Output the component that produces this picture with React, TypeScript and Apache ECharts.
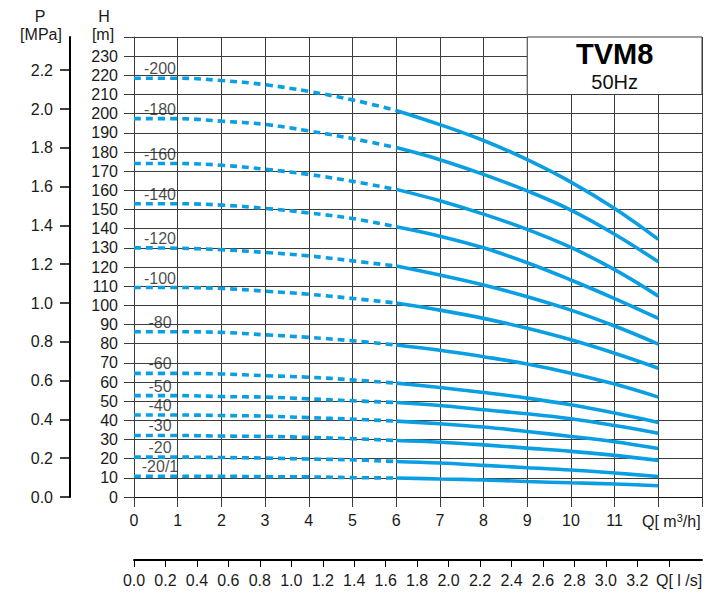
import React, { useEffect, useRef } from "react";
import * as echarts from "echarts";

// Flow rate points, m3/h
const Q_M3H = [0, 1, 2, 3, 4, 5, 6, 7, 8, 9, 10, 11, 12];
// index where dotted part ends and solid part starts
const SPLIT_INDEX = 6;

const CURVE_NAMES = ["-200", "-180", "-160", "-140", "-120", "-100", "-80", "-60", "-50", "-40", "-30", "-20", "-20/1"];

// Head values (m) at each Q
const H_200 = [218.5, 218.5, 217.3, 215.1, 211.6, 207.2, 201.7, 194.3, 186.0, 176.0, 164.3, 150.5, 134.4];
const H_180 = [197.4, 197.4, 196.1, 194.4, 191.0, 187.0, 182.3, 176.0, 168.3, 159.7, 149.7, 137.1, 122.7];
const H_160 = [174.0, 174.0, 173.1, 171.0, 168.3, 164.7, 160.5, 154.6, 147.6, 139.6, 130.2, 118.6, 104.8];
const H_140 = [153.0, 153.0, 152.3, 150.6, 148.2, 145.3, 141.0, 136.1, 130.0, 122.2, 113.2, 103.5, 93.2];
const H_120 = [130.0, 129.8, 129.0, 127.6, 125.8, 123.2, 120.5, 115.8, 110.6, 104.5, 97.5, 89.2, 79.8];
const H_100 = [109.3, 109.3, 108.8, 107.4, 105.8, 103.6, 101.2, 97.5, 93.2, 88.0, 82.0, 75.0, 67.2];
const H_80 = [86.2, 86.2, 85.9, 84.6, 83.3, 81.5, 79.3, 76.6, 73.2, 69.4, 64.6, 58.9, 52.1];
const H_60 = [64.5, 64.5, 64.2, 63.3, 62.5, 61.1, 59.4, 57.1, 54.5, 51.6, 48.1, 43.8, 38.9];
const H_50 = [52.9, 52.9, 52.4, 52.1, 51.2, 50.2, 49.3, 47.7, 45.5, 43.4, 40.8, 37.3, 33.3];
const H_40 = [42.8, 42.8, 42.5, 42.2, 41.4, 40.6, 39.6, 38.2, 36.5, 34.2, 31.6, 28.8, 25.3];
const H_30 = [32.1, 32.1, 31.8, 31.6, 31.1, 30.4, 29.5, 28.6, 27.2, 25.5, 23.8, 21.7, 19.1];
const H_20 = [20.8, 20.8, 20.6, 20.3, 19.8, 19.4, 18.5, 17.7, 16.5, 15.3, 14.1, 12.5, 10.7];
const H_20_1 = [10.8, 10.8, 10.8, 10.6, 10.5, 10.1, 9.9, 9.4, 8.9, 8.1, 7.4, 6.8, 5.9];

const CURVES = [H_200, H_180, H_160, H_140, H_120, H_100, H_80, H_60, H_50, H_40, H_30, H_20, H_20_1];

// Axis ticks / labels
const P_TICKS = [0, 0.2, 0.4, 0.6, 0.8, 1.0, 1.2, 1.4, 1.6, 1.8, 2.0, 2.2];
const LS_TICKS = [0, 0.2, 0.4, 0.6, 0.8, 1.0, 1.2, 1.4, 1.6, 1.8, 2.0, 2.2, 2.4, 2.6, 2.8, 3.0, 3.2, 3.4];
const LS_LABELS = [0, 0.2, 0.4, 0.6, 0.8, 1.0, 1.2, 1.4, 1.6, 1.8, 2.0, 2.2, 2.4, 2.6, 2.8, 3.0, 3.2];

const TITLE = "TVM8";
const SUBTITLE = "50Hz";

const FONT = "'Liberation Sans', Arial, sans-serif";
const FS = 16;
const BLUE = "#0a9fe3";
const TEXT = "#1a1a1a";
const GRIDC = "#3c3c3c";

export default function App() {
  const ref = useRef<HTMLDivElement>(null);

  useEffect(() => {
    if (!ref.current) return;
    const chart = echarts.init(ref.current, undefined, { renderer: "svg" });

    const series: any[] = [];
    CURVES.forEach((H, i) => {
      const pts = Q_M3H.map((q, j) => [q, H[j]]);
      series.push({
        type: "line",
        name: CURVE_NAMES[i] + " dotted",
        data: pts.slice(0, SPLIT_INDEX + 1),
        smooth: 0.4,
        symbol: "none",
        silent: true,
        lineStyle: { color: BLUE, width: 3.6, type: [7, 5], cap: "butt" },
        z: 3,
      });
      series.push({
        type: "line",
        name: CURVE_NAMES[i],
        data: pts.slice(SPLIT_INDEX),
        smooth: 0.4,
        symbol: "none",
        silent: true,
        lineStyle: { color: BLUE, width: 3.6, type: "solid" },
        z: 3,
      });
    });
    series.push({
      type: "scatter",
      name: "labels",
      symbolSize: 1,
      silent: true,
      itemStyle: { color: "transparent" },
      data: CURVE_NAMES.map((n, i) => ({ name: n, value: [Q_M3H[0], CURVES[i][0]] })),
      label: {
        show: true,
        formatter: "{b}",
        position: "top",
        distance: 1,
        offset: [26, 0],
        fontSize: FS,
        fontFamily: FONT,
        color: TEXT,
      },
      z: 4,
    });

    const baseText = (text: string, x: number, y: number, extra: any = {}) => ({
      type: "text",
      x,
      y,
      z: 20,
      style: {
        text,
        fontSize: FS,
        fontFamily: FONT,
        fill: TEXT,
        align: "center",
        verticalAlign: "middle",
        ...extra,
      },
    });

    const graphicsBase: any[] = [
      baseText("P", 40, 16),
      baseText("[MPa]", 41, 34),
      baseText("H", 104, 16),
      baseText("[m]", 103, 34),
      {
        type: "text",
        x: 642,
        y: 521,
        z: 20,
        style: {
          text: "{a|Q[ m}{s|3}{a|/h]}",
          fontFamily: FONT,
          fill: TEXT,
          align: "left",
          verticalAlign: "middle",
          rich: {
            a: { fontSize: FS, fontFamily: FONT, color: TEXT, lineHeight: 18 },
            s: { fontSize: 11, fontFamily: FONT, color: TEXT, verticalAlign: "top", lineHeight: 18 },
          },
        },
      },
      baseText("Q[ l /s]", 656, 580, { align: "left" }),
    ];

    const option: any = {
      animation: false,
      grid: { left: 134, top: 37, width: 568, height: 460, containLabel: false },
      xAxis: [
        {
          type: "value",
          gridIndex: 0,
          position: "bottom",
          min: 0,
          max: 13,
          interval: 1,
          axisLine: { show: true, onZero: false, lineStyle: { color: "#111", width: 1 } },
          axisTick: { show: true, length: 10, lineStyle: { color: GRIDC, width: 1 } },
          axisLabel: {
            margin: 15,
            fontSize: FS,
            fontFamily: FONT,
            color: TEXT,
            formatter: (v: number) => (v >= 12 ? "" : String(v)),
          },
          splitLine: { show: true, lineStyle: { color: GRIDC, width: 1 } },
        },
        {
          type: "value",
          gridIndex: 0,
          position: "bottom",
          offset: 63,
          min: 0,
          max: 13 / 3.6,
          axisLine: { show: true, onZero: false, lineStyle: { color: "#000", width: 2 } },
          axisTick: { show: true, length: 7, customValues: LS_TICKS, lineStyle: { color: "#000", width: 1 } },
          axisLabel: {
            customValues: LS_LABELS,
            margin: 12,
            fontSize: FS,
            fontFamily: FONT,
            color: TEXT,
            formatter: (v: number) => v.toFixed(1),
          },
          splitLine: { show: false },
        },
      ],
      yAxis: [
        {
          type: "value",
          gridIndex: 0,
          position: "left",
          min: 0,
          max: 240,
          interval: 10,
          axisLine: { show: true, onZero: false, lineStyle: { color: GRIDC, width: 1 } },
          axisTick: { show: true, length: 10, lineStyle: { color: GRIDC, width: 1 } },
          axisLabel: {
            margin: 16,
            fontSize: FS,
            fontFamily: FONT,
            color: TEXT,
            formatter: (v: number) => (v >= 240 ? "" : String(v)),
          },
          splitLine: { show: true, lineStyle: { color: GRIDC, width: 1 } },
        },
        {
          type: "value",
          gridIndex: 0,
          position: "left",
          offset: 64,
          min: 0,
          max: 460 / 194,
          axisLine: { show: true, onZero: false, lineStyle: { color: "#000", width: 2 } },
          axisTick: { show: true, length: 10, customValues: P_TICKS, lineStyle: { color: "#000", width: 1.5 } },
          axisLabel: {
            customValues: P_TICKS,
            margin: 17,
            fontSize: FS,
            fontFamily: FONT,
            color: TEXT,
            formatter: (v: number) => v.toFixed(1),
          },
          splitLine: { show: false },
        },
      ],
      series,
      graphic: graphicsBase,
    };

    chart.setOption(option);

    const p1 = chart.convertToPixel({ gridIndex: 0 }, [9, 240]) as number[];
    const p2 = chart.convertToPixel({ gridIndex: 0 }, [13, 210]) as number[];
    const bx = Math.min(p1[0], p2[0]);
    const by = Math.min(p1[1], p2[1]);
    const bw = Math.abs(p2[0] - p1[0]);
    const bh = Math.abs(p2[1] - p1[1]);
    const cx = bx + bw / 2;

    chart.setOption({
      graphic: [
        ...graphicsBase,
        {
          type: "rect",
          z: 15,
          shape: { x: bx, y: by, width: bw, height: bh },
          style: { fill: "#fff", stroke: GRIDC, lineWidth: 1 },
        },
        baseText(TITLE, cx, by + 17, { fontSize: 29, fontWeight: "bold", fill: "#000" }),
        baseText(SUBTITLE, cx, by + 45, { fontSize: 20, fill: "#111" }),
      ],
    });

    return () => chart.dispose();
  }, []);

  return (
    <div
      ref={ref}
      style={{ position: "absolute", left: 0, top: 0, width: 706, height: 595, background: "#fff" }}
    />
  );
}
